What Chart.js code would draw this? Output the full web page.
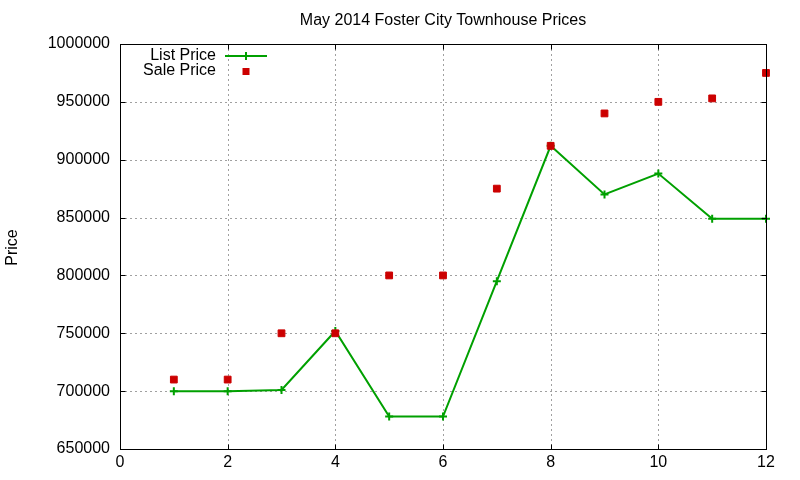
<!DOCTYPE html>
<html><head><meta charset="utf-8">
<script src="https://cdn.jsdelivr.net/npm/chart.js@4/dist/chart.umd.min.js"></script>
<style>html,body{margin:0;padding:0;background:#fff}canvas{display:block}</style>
</head><body>
<canvas id="c" width="800" height="480"></canvas>
<script>
const titleText = 'May 2014 Foster City Townhouse Prices';
const yAxisLabel = 'Price';
const seriesNames = ['List Price', 'Sale Price'];
const months = [1, 2, 3, 4, 5, 6, 7, 8, 9, 10, 11, 12];
const listPrice = [700000, 700000, 701000, 752000, 678000, 678000, 795000, 912000, 870000, 888000, 849000, 849000];
const salePrice = [710000, 710000, 750000, 750000, 800000, 800000, 875000, 912000, 940000, 950000, 953000, 975000];
const xTicks = [0, 2, 4, 6, 8, 10, 12];
const yTicks = [650000, 700000, 750000, 800000, 850000, 900000, 950000, 1000000];

const FONT = '"Liberation Sans", Arial, sans-serif';
const GREEN = '#00a000';
const RED = '#cc0000';

const gnuplotDeco = {
  id: 'gnuplotDeco',
  beforeDatasetsDraw(chart) {
    const {ctx, chartArea: a, scales: {x, y}} = chart;
    ctx.save();
    ctx.strokeStyle = '#a0a0a0';
    ctx.lineWidth = 1;
    ctx.setLineDash([2, 3]);
    xTicks.forEach(v => {
      const px = Math.round(x.getPixelForValue(v)) + 0.5;
      if (v === x.min || v === x.max) return;
      ctx.beginPath(); ctx.moveTo(px, a.top); ctx.lineTo(px, a.bottom); ctx.stroke();
    });
    yTicks.forEach(v => {
      const py = Math.round(y.getPixelForValue(v)) + 0.5;
      if (v === y.min || v === y.max) return;
      ctx.beginPath(); ctx.moveTo(a.left, py); ctx.lineTo(a.right, py); ctx.stroke();
    });
    ctx.restore();
  },
  afterDraw(chart) {
    const {ctx, chartArea: a, scales: {x, y}} = chart;
    ctx.save();
    ctx.strokeStyle = '#000';
    ctx.lineWidth = 1;
    ctx.setLineDash([]);
    const L = Math.round(a.left) + 0.5, R = Math.round(a.right) + 0.5;
    const T = Math.round(a.top) + 0.5, B = Math.round(a.bottom) + 0.5;
    ctx.strokeRect(L, T, R - L, B - T);
    const tl = 5;
    xTicks.forEach(v => {
      const px = Math.round(x.getPixelForValue(v)) + 0.5;
      ctx.beginPath();
      ctx.moveTo(px, B); ctx.lineTo(px, B - tl);
      ctx.moveTo(px, T); ctx.lineTo(px, T + tl);
      ctx.stroke();
    });
    yTicks.forEach(v => {
      const py = Math.round(y.getPixelForValue(v)) + 0.5;
      ctx.beginPath();
      ctx.moveTo(L, py); ctx.lineTo(L + tl, py);
      ctx.moveTo(R, py); ctx.lineTo(R - tl, py);
      ctx.stroke();
    });
    // title
    ctx.fillStyle = '#000';
    ctx.font = '16px ' + FONT;
    ctx.textAlign = 'center';
    ctx.textBaseline = 'middle';
    ctx.fillText(titleText, (a.left + a.right) / 2, 21);
    // y axis label
    ctx.save();
    ctx.translate(13, (a.top + a.bottom) / 2 + 1);
    ctx.rotate(-Math.PI / 2);
    ctx.fillText(yAxisLabel, 0, 0);
    ctx.restore();
    // legend
    const ds = chart.data.datasets;
    ctx.textAlign = 'right';
    ctx.fillText(ds[0].label, 216, 56);
    ctx.fillText(ds[1].label, 216, 71);
    ctx.strokeStyle = GREEN;
    ctx.lineWidth = 2;
    ctx.beginPath(); ctx.moveTo(225, 56); ctx.lineTo(267, 56); ctx.stroke();
    ctx.beginPath(); ctx.moveTo(242, 56); ctx.lineTo(250, 56); ctx.moveTo(246, 52); ctx.lineTo(246, 60); ctx.stroke();
    ctx.fillStyle = RED;
    ctx.fillRect(242.5, 68, 7, 7);
    ctx.restore();
  }
};

new Chart(document.getElementById('c'), {
  type: 'line',
  data: {
    datasets: [
      {
        label: seriesNames[0],
        order: 1,
        data: months.map((m, i) => ({x: m, y: listPrice[i]})),
        borderColor: GREEN,
        backgroundColor: GREEN,
        borderWidth: 2,
        pointStyle: 'cross',
        pointRadius: 4,
        pointBorderWidth: 2,
        pointBorderColor: GREEN,
        tension: 0,
        fill: false,
        clip: false
      },
      {
        label: seriesNames[1],
        order: 0,
        data: months.map((m, i) => ({x: m, y: salePrice[i]})),
        showLine: false,
        pointStyle: 'rect',
        pointRadius: 4.8,
        pointBorderWidth: 1,
        pointBorderColor: RED,
        pointBackgroundColor: RED,
        borderColor: RED,
        backgroundColor: RED,
        clip: false
      }
    ]
  },
  options: {
    responsive: false,
    animation: false,
    devicePixelRatio: 1,
    layout: {padding: {top: 44, right: 34, bottom: 0, left: 0}},
    plugins: {legend: {display: false}, title: {display: false}, tooltip: {enabled: false}},
    scales: {
      x: {
        type: 'linear', min: 0, max: 12,
        afterBuildTicks: s => { s.ticks = xTicks.map(v => ({value: v})); },
        afterFit: s => { s.height = 31; },
        grid: {display: false, drawTicks: false},
        border: {display: false},
        ticks: {color: '#000', font: {family: FONT, size: 16}, padding: 4, maxRotation: 0, autoSkip: false}
      },
      y: {
        type: 'linear', min: 650000, max: 1000000,
        afterBuildTicks: s => { s.ticks = yTicks.map(v => ({value: v})); },
        afterFit: s => { s.width = 120; },
        grid: {display: false, drawTicks: false},
        border: {display: false},
        ticks: {color: '#000', font: {family: FONT, size: 16}, padding: 10, callback: v => String(v)}
      }
    }
  },
  plugins: [gnuplotDeco]
});
</script>
</body></html>
